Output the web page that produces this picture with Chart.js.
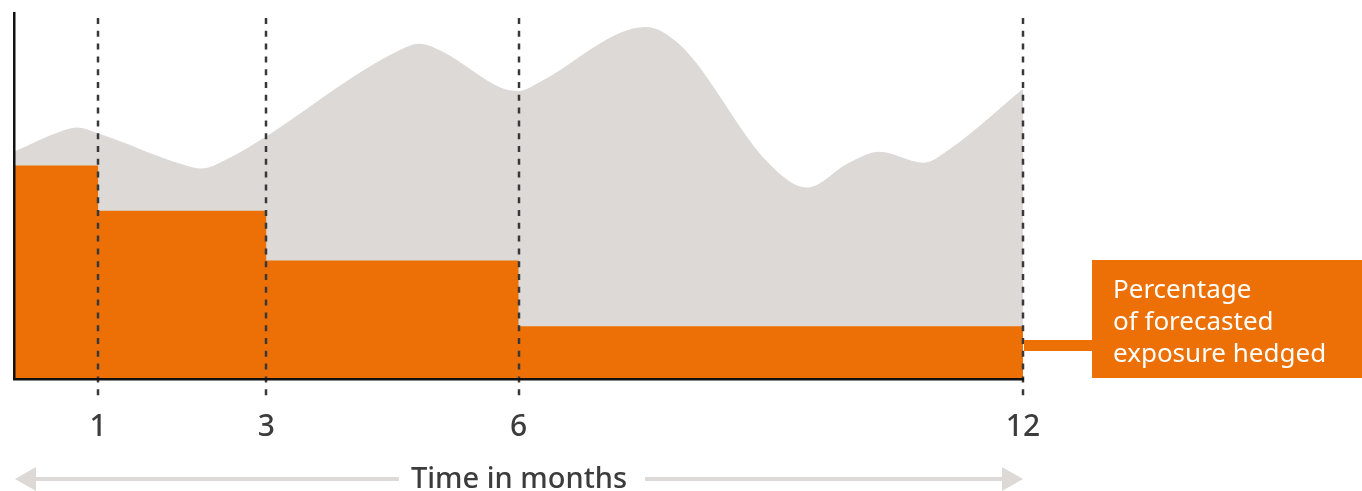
<!DOCTYPE html>
<html>
<head>
<meta charset="utf-8">
<title>Hedging by time horizon</title>
<script src="https://cdn.jsdelivr.net/npm/chart.js@4.4.1/dist/chart.umd.min.js"></script>
<style>
  html, body { margin: 0; padding: 0; background: #ffffff; }
  #wrap { width: 1362px; height: 491px; }
</style>
</head>
<body>
<div id="wrap"><canvas id="chart" width="1362" height="491"></canvas></div>
<script>
// Horizon markers (months)
const MONTH_TICKS = [1, 3, 6, 12];

// Forecasted exposure (arbitrary units, 0-100)
const EXPOSURE_MONTHS = [0, 0.58, 0.75, 0.98, 2.01, 2.23, 2.52, 4.59, 4.82, 5.10, 5.79, 6.00, 6.26, 7.21, 7.51, 7.92, 8.99, 9.43, 9.93, 10.29, 10.82, 11.12, 12];
const EXPOSURE_VALUES = [62.1, 67.8, 68.7, 67.3, 58.6, 57.5, 59.9, 89.9, 91.6, 89.4, 79.6, 78.7, 81.2, 94.6, 96.2, 91.3, 58.6, 52.3, 59.1, 62.1, 59.1, 62.7, 79.3];

// Hedged portion, held constant until the next horizon marker
const HEDGE_MONTHS = [0, 1, 3, 6, 12];
const HEDGE_VALUES = [58.3, 46.0, 32.4, 14.4, 14.4];

const AXIS_TITLE = 'Time in months';
const CALLOUT_LINES = ['Percentage', 'of forecasted', 'exposure hedged'];

const ORANGE = '#ec7005';
const GREY_AREA = '#dcd9d7';
const INK = '#3c3c3c';
const FONT = "'Noto Sans', 'DejaVu Sans', sans-serif";

const toPoints = (xs, ys) => xs.map((x, i) => ({ x, y: ys[i] }));

const decorations = {
  id: 'decorations',
  afterDatasetsDraw(chart) {
    const { ctx, chartArea, scales: { x } } = chart;
    ctx.save();
    ctx.strokeStyle = '#383838';
    ctx.lineWidth = 2.5;
    ctx.setLineDash([6, 6.8]);
    MONTH_TICKS.forEach(m => {
      const px = Math.round(x.getPixelForValue(m));
      ctx.beginPath();
      ctx.moveTo(px, chartArea.top + 5);
      ctx.lineTo(px, chartArea.bottom + 20);
      ctx.stroke();
    });
    ctx.restore();
  },
  afterDraw(chart) {
    const { ctx, chartArea, scales: { x } } = chart;
    const left = x.getPixelForValue(0) + 1;
    const right = x.getPixelForValue(12);
    ctx.save();

    // Time arrow with the axis caption in the middle
    const ay = 479;
    const head = 21, halfH = 12;
    ctx.font = `500 29px ${FONT}`;
    const tw = ctx.measureText(AXIS_TITLE).width;
    const cx = (left + right) / 2;
    ctx.fillStyle = GREY_AREA;
    ctx.fillRect(left + head - 1, ay - 2, cx - tw / 2 - 12 - (left + head - 1), 4);
    ctx.fillRect(cx + tw / 2 + 18, ay - 2, right - head + 1 - (cx + tw / 2 + 18), 4);
    ctx.beginPath();
    ctx.moveTo(left, ay);
    ctx.lineTo(left + head, ay - halfH);
    ctx.lineTo(left + head, ay + halfH);
    ctx.closePath();
    ctx.fill();
    ctx.beginPath();
    ctx.moveTo(right, ay);
    ctx.lineTo(right - head, ay - halfH);
    ctx.lineTo(right - head, ay + halfH);
    ctx.closePath();
    ctx.fill();
    ctx.fillStyle = INK;
    ctx.textAlign = 'center';
    ctx.textBaseline = 'alphabetic';
    ctx.fillText(AXIS_TITLE, cx, 488);

    // Callout box for the hedged series
    const boxLeft = chartArea.right + 69;
    const boxBottom = chartArea.bottom - 1;
    const boxTop = boxBottom - 118;
    ctx.fillStyle = ORANGE;
    ctx.fillRect(boxLeft, boxTop, chart.width - boxLeft, boxBottom - boxTop);
    ctx.fillRect(chartArea.right + 1, boxTop + 80, boxLeft - chartArea.right, 11);
    ctx.fillStyle = '#ffffff';
    ctx.textAlign = 'left';
    ctx.font = `26px ${FONT}`;
    CALLOUT_LINES.forEach((line, i) => {
      ctx.fillText(line, boxLeft + 21, boxTop + 38 + i * 32);
    });
    ctx.restore();
  }
};

new Chart(document.getElementById('chart'), {
  type: 'line',
  data: {
    datasets: [
      {
        label: 'Hedged',
        data: toPoints(HEDGE_MONTHS, HEDGE_VALUES),
        stepped: 'before',
        fill: 'origin',
        backgroundColor: ORANGE,
        borderWidth: 0,
        pointRadius: 0,
        order: 1
      },
      {
        label: 'Forecasted exposure',
        data: toPoints(EXPOSURE_MONTHS, EXPOSURE_VALUES),
        cubicInterpolationMode: 'monotone',
        fill: 'origin',
        backgroundColor: GREY_AREA,
        borderWidth: 0,
        pointRadius: 0,
        order: 2
      }
    ]
  },
  options: {
    responsive: false,
    devicePixelRatio: 1,
    animation: false,
    events: [],
    layout: { padding: { left: 14, right: 339, top: 13, bottom: 16 } },
    plugins: { legend: { display: false }, tooltip: { enabled: false } },
    scales: {
      x: {
        type: 'linear',
        min: 0,
        max: 12,
        afterBuildTicks: s => { s.ticks = MONTH_TICKS.map(v => ({ value: v })); },
        grid: { display: false, drawTicks: false },
        border: { display: true, color: '#111111', width: 2.5, z: 1 },
        ticks: {
          autoSkip: false,
          maxRotation: 0,
          padding: 30,
          color: INK,
          font: { family: FONT, size: 30, weight: '500' },
          callback: v => String(v)
        }
      },
      y: {
        min: 0,
        max: 100,
        ticks: { display: false },
        grid: { display: false, drawTicks: false },
        border: { display: true, color: '#111111', width: 2.5, z: 1 }
      }
    }
  },
  plugins: [decorations]
});
</script>
</body>
</html>
